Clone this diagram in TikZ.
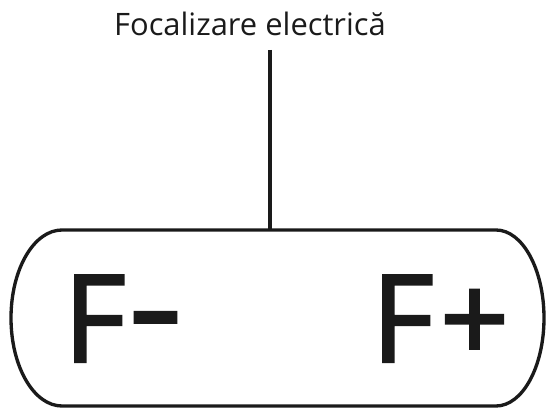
\documentclass[tikz,border=0pt]{standalone}
\usepackage{fontspec}
\setmainfont{Open Sans}
\newfontfamily\polofont{Open Sans}[FakeBold=2]
\usetikzlibrary{positioning}
\definecolor{tinta}{RGB}{26,26,26}
\begin{document}
\begin{tikzpicture}[x=0.02cm, y=0.02cm,
  contorno/.style={draw=tinta, line width=1.9pt},
  polo/.style={anchor=base west, inner sep=0pt, text=tinta, font=\polofont\fontsize{69}{69}\selectfont}]
  \useasboundingbox (0,0) rectangle (547,409);
  \node[anchor=base, inner sep=0pt, text=tinta, font=\fontsize{17.6}{21}\selectfont] (titulo) at (250,373) {Focalizare electrică};
  \draw[contorno] (62,179) -- (496,179) arc[start angle=90, end angle=-90, x radius=48, y radius=88]
    -- (62,3) arc[start angle=270, end angle=90, x radius=51, y radius=88] -- cycle;
  \coordinate (cable) at (270,359);
  \coordinate (lente) at (270,179);
  \draw[contorno] (cable) -- (lente);
  \node[polo] (fmenos) at (63,47) {F\kern0.04em\raisebox{0.06em}{\scalebox{0.82}[1.15]{\textendash}}};
  \node[polo] (fmas) at (371,47) {F\kern0.05em+};
\end{tikzpicture}
\end{document}
